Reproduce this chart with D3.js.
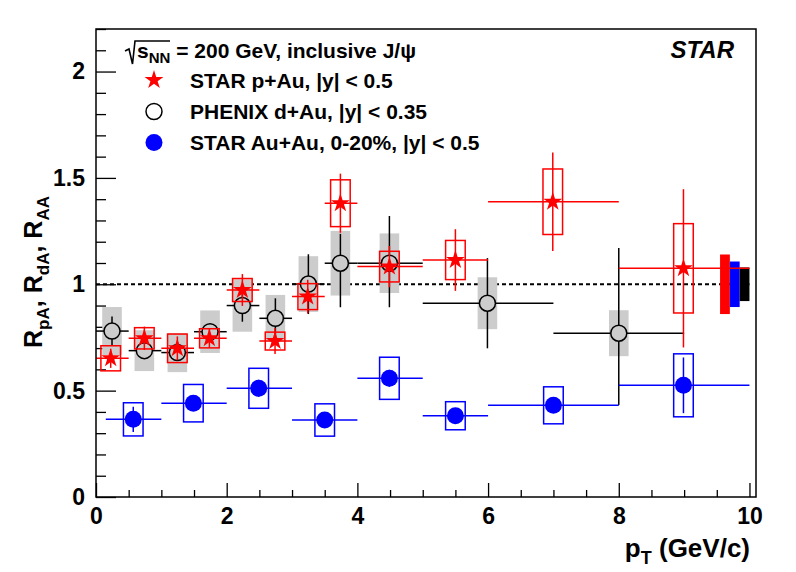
<!DOCTYPE html>
<html><head><meta charset="utf-8">
<script src="https://cdn.jsdelivr.net/npm/d3@7"></script>
<style>body{margin:0;background:#fff}svg{display:block}text{font-family:"Liberation Sans",Arial,Helvetica,sans-serif;font-weight:bold}</style>
</head><body>
<svg id="c" width="796" height="572"></svg>
<script>
// ---------- data ----------
const xMajorTicks = [0, 2, 4, 6, 8, 10];
const yMajorTicks = [0, 0.5, 1, 1.5, 2];

// STAR p+Au
const starX    = [0.225, 0.74, 1.245, 1.735, 2.24, 2.74, 3.24, 3.74, 4.49, 5.50, 6.99, 8.99];
const starY    = [0.652, 0.746, 0.699, 0.746, 0.973, 0.733, 0.942, 1.381, 1.083, 1.114, 1.388, 1.075];
const starXlo  = [0, 0.5, 1, 1.5, 2, 2.5, 3, 3.5, 4, 5, 6, 8];
const starXhi  = [0.5, 1, 1.5, 2, 2.5, 3, 3.5, 4, 5, 6, 8, 10];
const starStat = [0.045, 0.055, 0.056, 0.045, 0.075, 0.061, 0.079, 0.139, 0.097, 0.145, 0.232, 0.372];
const starSys  = [0.059, 0.050, 0.067, 0.045, 0.054, 0.042, 0.061, 0.110, 0.072, 0.092, 0.154, 0.210];

// PHENIX d+Au
const phX      = [0.245, 0.74, 1.245, 1.745, 2.24, 2.745, 3.25, 3.74, 4.49, 5.99, 8.0];
const phY      = [0.780, 0.688, 0.679, 0.777, 0.900, 0.840, 1.001, 1.099, 1.099, 0.911, 0.770];
const phXlo    = [0, 0.5, 1, 1.5, 2, 2.5, 3, 3.5, 4, 5, 7];
const phXhi    = [0.5, 1, 1.5, 2, 2.5, 3, 3.5, 4, 5, 7, 9];
const phStatUp = [0.068, 0.03, 0.03, 0.03, 0.070, 0.094, 0.140, 0.138, 0.222, 0.212, 0.400];
const phStatDn = [0.065, 0.03, 0.03, 0.03, 0.076, 0.097, 0.141, 0.207, 0.207, 0.212, 0.337];
const phSys    = [0.113, 0.096, 0.092, 0.100, 0.123, 0.110, 0.131, 0.152, 0.140, 0.122, 0.108];

// STAR Au+Au 0-20%
const aaX      = [0.57, 1.49, 2.49, 3.5, 4.49, 5.5, 7.0, 8.99];
const aaY      = [0.365, 0.441, 0.511, 0.362, 0.558, 0.382, 0.431, 0.525];
const aaXlo    = [0.15, 1, 2, 3, 4, 5, 6, 8];
const aaXhi    = [1, 2, 3, 4, 5, 6, 8, 10];
const aaStat   = [0.059, 0.030, 0.040, 0.020, 0.040, 0.035, 0.035, 0.131];
const aaSys    = [0.078, 0.088, 0.094, 0.076, 0.099, 0.066, 0.087, 0.148];

// global uncertainties (p+Au, Au+Au, d+Au)
const globLo   = [9.55, 9.70, 9.85];
const globHi   = [9.70, 9.85, 10.0];
const globErr  = [0.140, 0.107, 0.079];
const globCol  = ["#ff0000", "#0000ff", "#000000"];

const legendLabels = ["STAR p+Au, |y| < 0.5", "PHENIX d+Au, |y| < 0.35", "STAR Au+Au, 0-20%, |y| < 0.5"];

// ---------- drawing ----------
const svg = d3.select("#c");
const x = d3.scaleLinear().domain([0, 10.1]).range([96, 756]);
const y = d3.scaleLinear().domain([0, 2.2]).range([497, 29]);
const boxHW = 0.15;
const RED = "#ff0000", BLUE = "#0000ff";

// axes
const xMinor = d3.range(0, 10.01, 0.5).filter(v => Math.abs(v/2 - Math.round(v/2)) > 1e-6);
const yMinor = d3.range(0, 2.201, 0.1).map(v => +v.toFixed(2)).filter(v => Math.abs(v/0.5 - Math.round(v/0.5)) > 1e-6);

svg.append("g").attr("transform", "translate(0,497)")
  .call(d3.axisBottom(x).tickValues(xMajorTicks).tickSizeInner(-14).tickSizeOuter(0).tickPadding(11).tickFormat(d3.format("d")));
svg.append("g").attr("transform", "translate(0,497)")
  .call(d3.axisBottom(x).tickValues(xMinor).tickSizeInner(-7).tickSizeOuter(0).tickFormat(""));
svg.append("g").attr("transform", "translate(96,0)")
  .call(d3.axisLeft(y).tickValues(yMajorTicks).tickSizeInner(-20).tickSizeOuter(0).tickPadding(11).tickFormat(d => d3.format("")(d)));
svg.append("g").attr("transform", "translate(96,0)")
  .call(d3.axisLeft(y).tickValues(yMinor).tickSizeInner(-10).tickSizeOuter(0).tickFormat(""));
svg.selectAll(".domain").remove();
svg.selectAll(".tick line").attr("stroke", "#000").attr("stroke-width", 1.3);
svg.selectAll(".tick text").attr("font-size", 23).attr("fill", "#000")
  .style("font-family", '"Liberation Sans",Arial,sans-serif').style("font-weight", "bold");

// dashed unity line
svg.append("line").attr("x1", x(0)).attr("x2", x(10)).attr("y1", y(1)).attr("y2", y(1))
  .attr("stroke", "#000").attr("stroke-width", 2.2).attr("stroke-dasharray", "4,3");

// PHENIX gray sys boxes
svg.append("g").selectAll("rect").data(phX).join("rect")
  .attr("x", (d) => x(d - boxHW)).attr("width", (d) => x(d + boxHW) - x(d - boxHW))
  .attr("y", (d, i) => y(phY[i] + phSys[i])).attr("height", (d, i) => y(phY[i] - phSys[i]) - y(phY[i] + phSys[i]))
  .attr("fill", "#cccccc");

// global boxes
svg.append("g").selectAll("rect").data(globErr).join("rect")
  .attr("x", (d, i) => x(globLo[i])).attr("width", (d, i) => x(globHi[i]) - x(globLo[i]))
  .attr("y", d => y(1 + d)).attr("height", d => y(1 - d) - y(1 + d))
  .attr("fill", (d, i) => globCol[i]);

// PHENIX stat errors (with gap for open marker) and circles
const R = 8;
const gph = svg.append("g").attr("stroke", "#000").attr("stroke-width", 1.5);
phX.forEach((d, i) => {
  const px = x(d), py = y(phY[i]);
  const segs = [
    [x(phXlo[i]), py, px - R, py], [px + R, py, x(phXhi[i]), py],
    [px, y(phY[i] + phStatUp[i]), px, py - R], [px, py + R, px, y(phY[i] - phStatDn[i])]
  ];
  segs.forEach(s => {
    if ((s[0] === s[2] && s[3] > s[1]) || (s[1] === s[3] && s[2] > s[0]))
      gph.append("line").attr("x1", s[0]).attr("y1", s[1]).attr("x2", s[2]).attr("y2", s[3]);
  });
});
svg.append("g").selectAll("circle").data(phX).join("circle")
  .attr("cx", d => x(d)).attr("cy", (d, i) => y(phY[i])).attr("r", R)
  .attr("fill", "none").attr("stroke", "#000").attr("stroke-width", 1.5);

// Au+Au
const gaa = svg.append("g");
gaa.selectAll("rect").data(aaX).join("rect")
  .attr("x", d => x(d - boxHW)).attr("width", d => x(d + boxHW) - x(d - boxHW))
  .attr("y", (d, i) => y(aaY[i] + aaSys[i])).attr("height", (d, i) => y(aaY[i] - aaSys[i]) - y(aaY[i] + aaSys[i]))
  .attr("fill", "none").attr("stroke", BLUE).attr("stroke-width", 1.5);
gaa.selectAll("line.h").data(aaX).join("line").attr("class", "h")
  .attr("x1", (d, i) => x(aaXlo[i])).attr("x2", (d, i) => x(aaXhi[i]))
  .attr("y1", (d, i) => y(aaY[i])).attr("y2", (d, i) => y(aaY[i]))
  .attr("stroke", BLUE).attr("stroke-width", 1.5);
gaa.selectAll("line.v").data(aaX).join("line").attr("class", "v")
  .attr("x1", d => x(d)).attr("x2", d => x(d))
  .attr("y1", (d, i) => y(aaY[i] + aaStat[i])).attr("y2", (d, i) => y(aaY[i] - aaStat[i]))
  .attr("stroke", BLUE).attr("stroke-width", 1.5);
gaa.selectAll("circle").data(aaX).join("circle")
  .attr("cx", d => x(d)).attr("cy", (d, i) => y(aaY[i])).attr("r", 8.5).attr("fill", BLUE);

// STAR p+Au
const gst = svg.append("g");
gst.selectAll("rect").data(starX).join("rect")
  .attr("x", d => x(d - boxHW)).attr("width", d => x(d + boxHW) - x(d - boxHW))
  .attr("y", (d, i) => y(starY[i] + starSys[i])).attr("height", (d, i) => y(starY[i] - starSys[i]) - y(starY[i] + starSys[i]))
  .attr("fill", "none").attr("stroke", RED).attr("stroke-width", 1.5);
gst.selectAll("line.h").data(starX).join("line").attr("class", "h")
  .attr("x1", (d, i) => x(starXlo[i])).attr("x2", (d, i) => x(starXhi[i]))
  .attr("y1", (d, i) => y(starY[i])).attr("y2", (d, i) => y(starY[i]))
  .attr("stroke", RED).attr("stroke-width", 1.5);
gst.selectAll("line.v").data(starX).join("line").attr("class", "v")
  .attr("x1", d => x(d)).attr("x2", d => x(d))
  .attr("y1", (d, i) => y(starY[i] + starStat[i])).attr("y2", (d, i) => y(starY[i] - starStat[i]))
  .attr("stroke", RED).attr("stroke-width", 1.5);
const starSym = d3.symbol().type(d3.symbolStar).size(110);
gst.selectAll("path").data(starX).join("path")
  .attr("d", starSym).attr("transform", (d, i) => `translate(${x(d)},${y(starY[i])})`).attr("fill", RED);

// frame
svg.append("rect").attr("x", 96).attr("y", 29).attr("width", 660).attr("height", 468)
  .attr("fill", "none").attr("stroke", "#000").attr("stroke-width", 1.5);

// axis titles
const yt = svg.append("text").attr("transform", "translate(42,272) rotate(-90)")
  .attr("text-anchor", "middle").attr("font-size", 25).attr("fill", "#000");
[["R", "pA", ", "], ["R", "dA", ", "], ["R", "AA", ""]].forEach(p => {
  yt.append("tspan").text(p[0]);
  yt.append("tspan").attr("font-size", 17).attr("dy", 7).text(p[1]);
  if (p[2]) yt.append("tspan").attr("dy", -7).text(p[2]);
});
const xt = svg.append("text").attr("x", 750).attr("y", 557).attr("text-anchor", "end")
  .attr("font-size", 26).attr("fill", "#000");
xt.append("tspan").text("p");
xt.append("tspan").attr("font-size", 18).attr("dy", 7).text("T");
xt.append("tspan").attr("dy", -7).text(" (GeV/c)");

// header
svg.append("path").attr("d", "M125,51 L129,49 L132.5,64 L135,41 L170,41")
  .attr("fill", "none").attr("stroke", "#000").attr("stroke-width", 1.6);
const hd = svg.append("text").attr("x", 137).attr("y", 58).attr("font-size", 21).attr("fill", "#000");
hd.append("tspan").text("s");
hd.append("tspan").attr("font-size", 15).attr("dy", 5).text("NN");
hd.append("tspan").attr("dy", -5).text(" = 200 GeV, inclusive J/\u03c8");
svg.append("text").attr("x", 734).attr("y", 58).attr("text-anchor", "end")
  .attr("font-size", 24).attr("font-style", "italic").attr("fill", "#000").text("STAR");

// legend
const legY = [80, 111.5, 142.5];
const lg = svg.append("g");
lg.append("path").attr("d", starSym).attr("transform", `translate(154,${legY[0]})`).attr("fill", RED);
lg.append("circle").attr("cx", 154).attr("cy", legY[1]).attr("r", R).attr("fill", "#fff").attr("stroke", "#000").attr("stroke-width", 1.5);
lg.append("circle").attr("cx", 154).attr("cy", legY[2]).attr("r", 8.5).attr("fill", BLUE);
lg.selectAll("text").data(legendLabels).join("text")
  .attr("x", 190).attr("y", (d, i) => legY[i] + 7.5).attr("font-size", 21).attr("fill", "#000").text(d => d);
</script>
</body></html>
